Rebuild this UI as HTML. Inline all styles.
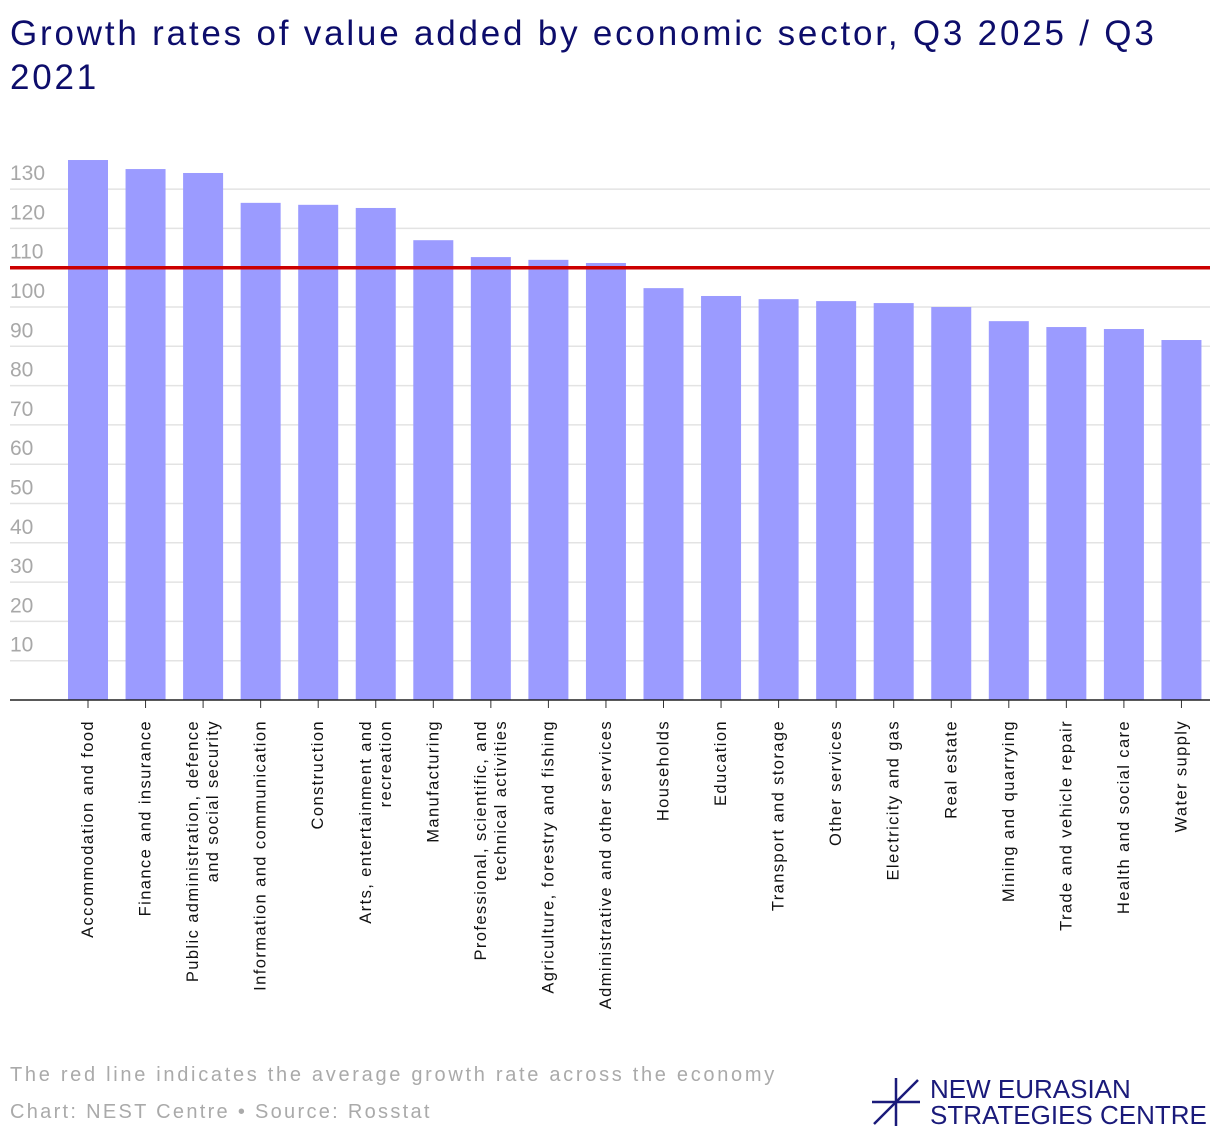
<!DOCTYPE html>
<html><head><meta charset="utf-8"><style>
body{margin:0;background:#fff;width:1220px;height:1140px;overflow:hidden;font-family:"Liberation Sans",sans-serif}
h1{position:absolute;left:10px;top:12px;margin:0;font-size:35px;font-weight:normal;color:#0d0d6b;line-height:44px;width:1200px;letter-spacing:2.8px;white-space:nowrap}
.note{position:absolute;left:10px;font-size:20px;color:#aaa;letter-spacing:2.7px;white-space:nowrap}
</style></head><body>
<h1>Growth rates of value added by economic sector, Q3 2025 / Q3<br>2021</h1>
<svg id="c" width="1220" height="1140" style="position:absolute;left:0;top:0"></svg>
<div class="note" style="top:1064px">The red line indicates the average growth rate across the economy</div>
<div class="note" style="top:1101px;letter-spacing:2.3px">Chart: NEST Centre • Source: Rosstat</div>
<svg style="position:absolute;left:872px;top:1078px" width="50" height="50">
<g stroke="#1a1a7a" stroke-width="2.5"><line x1="24" y1="0" x2="24" y2="48"/><line x1="0" y1="24" x2="48" y2="24"/><line x1="2" y1="46" x2="46" y2="2"/></g></svg>
<div style="position:absolute;left:930px;top:1076px;color:#1a1a7a;font-size:26px;line-height:26px;letter-spacing:0px">NEW EURASIAN<br>STRATEGIES CENTRE</div>
<script>
const categories=["Accommodation and food","Finance and insurance","Public administration, defence|and social security","Information and communication","Construction","Arts, entertainment and|recreation","Manufacturing","Professional, scientific, and|technical activities","Agriculture, forestry and fishing","Administrative and other services","Households","Education","Transport and storage","Other services","Electricity and gas","Real estate","Mining and quarrying","Trade and vehicle repair","Health and social care","Water supply"];
const values=[137.4,135.1,134.1,126.5,126,125.2,117,112.7,112,111.2,104.8,102.8,102,101.5,101,100,96.4,94.9,94.4,91.6];
const ticks=[10,20,30,40,50,60,70,80,90,100,110,120,130];
const average=[110];
const svg=document.getElementById('c');const NS='http://www.w3.org/2000/svg';
const y0=700,ppu=3.93,x0=68,step=57.55,bw=40;
const y=v=>y0-v*ppu;const x=i=>x0+i*step;
function mk(t,a,name){const e=document.createElementNS(NS,t);for(const k in a)e.setAttribute(k,a[k]);


svg.appendChild(e);return e;}
ticks.forEach(t=>{mk('line',{x1:10,x2:1210,y1:y(t),y2:y(t),stroke:'#e3e3e3','stroke-width':1.5},'gridline');
const tx=mk('text',{x:10,y:y(t)-9,fill:'#a8a8a8','font-size':21,'font-family':'Liberation Sans'},'y-tick-label');tx.textContent=t;});
values.forEach((v,i)=>{mk('rect',{x:x(i),y:y(v),width:bw,height:v*ppu,fill:'#9b9bff'},'bar');
const cx=x(i)+bw/2;const lines=categories[i].split('|');
lines.forEach((l,j)=>{const off=(j-(lines.length-1)/2)*20;
const t=mk('text',{x:0,y:0,transform:`translate(${cx+off+5},720) rotate(-90)`,'text-anchor':'end','font-size':16.5,'letter-spacing':1.4,fill:'#111','font-family':'Liberation Sans'},'x-tick-label');t.textContent=l;});
mk('line',{x1:cx,x2:cx,y1:700,y2:708,stroke:'#333','stroke-width':1},'x-tick');});
mk('line',{x1:10,x2:1210,y1:700,y2:700,stroke:'#222','stroke-width':1.5},'x-axis');
mk('line',{x1:10,x2:1210,y1:y(average[0]),y2:y(average[0]),stroke:'#cc0000','stroke-width':3.5},'average-line');
</script>
</body></html>
